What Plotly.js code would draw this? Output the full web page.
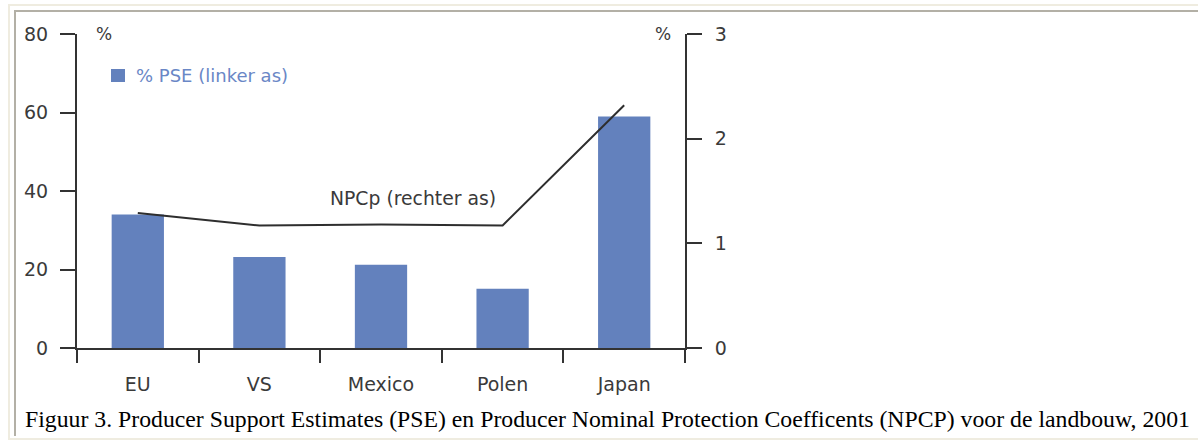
<!DOCTYPE html>
<html>
<head>
<meta charset="utf-8">
<script src="https://cdn.plot.ly/plotly-3.0.1.min.js"></script>
<style>
  html, body { margin: 0; padding: 0; background: #ffffff; overflow: hidden; width: 1198px; height: 441px; }
  #wrap { position: relative; width: 1198px; height: 441px; overflow: hidden; }
  #outer { position: absolute; left: 8px; top: 4px; width: 1250px; height: 432px;
           border-left: 2px solid #efece0; border-top: 2px solid #efece0; border-bottom: 2px solid #efece0; }
  #inner { position: absolute; left: 14px; top: 10px; width: 1250px; height: 424px;
           border-left: 2px solid #b3b0a6; border-top: 2px solid #b3b0a6; }
  #chart { position: absolute; left: 0; top: 0; width: 1198px; height: 441px; }
</style>
</head>
<body>
<div id="wrap">
  <div id="outer"></div>
  <div id="inner"></div>
  <div id="chart"></div>
</div>
<script>
const categories = ["EU", "VS", "Mexico", "Polen", "Japan"];
const psePercent = [34, 23.2, 21.2, 15.1, 59];
const npcp = [1.29, 1.17, 1.18, 1.17, 2.32];
const leftTicks = [0, 20, 40, 60, 80];
const rightTicks = [0, 1, 2, 3];
const captionText = "Figuur 3. Producer Support Estimates (PSE) en Producer Nominal Protection Coefficents (NPCP) voor de landbouw, 2001";

const axisColor = "#333333";
const tickFont = { family: "DejaVu Sans", size: 19, color: "#3a3a3a" };

const traces = [
  {
    type: "bar",
    x: categories,
    y: psePercent,
    width: 0.43,
    marker: { color: "#6381bd" },
    yaxis: "y"
  },
  {
    type: "scatter",
    mode: "lines",
    x: categories,
    y: npcp,
    line: { color: "#2e2e2e", width: 2 },
    yaxis: "y2"
  }
];

const layout = {
  width: 1198,
  height: 441,
  margin: { l: 77, r: 513, t: 34, b: 93, pad: 0 },
  paper_bgcolor: "rgba(0,0,0,0)",
  plot_bgcolor: "rgba(0,0,0,0)",
  showlegend: false,
  xaxis: {
    type: "category",
    range: [-0.5, 4.5],
    showline: true, linecolor: axisColor, linewidth: 2,
    ticks: "outside", tickson: "boundaries", ticklen: 13, tickwidth: 2, tickcolor: axisColor,
    tickfont: tickFont,
    ticklabelstandoff: 18,
    showgrid: false, zeroline: false, fixedrange: true
  },
  yaxis: {
    range: [0, 80],
    tickvals: leftTicks,
    showline: true, linecolor: axisColor, linewidth: 2,
    ticks: "outside", ticklen: 15, tickwidth: 2, tickcolor: axisColor,
    tickfont: tickFont,
    ticklabelstandoff: 8,
    showgrid: false, zeroline: false, fixedrange: true
  },
  yaxis2: {
    range: [0, 3],
    tickvals: rightTicks,
    overlaying: "y",
    side: "right",
    showline: true, linecolor: axisColor, linewidth: 2,
    ticks: "outside", ticklen: 15, tickwidth: 2, tickcolor: axisColor,
    tickfont: tickFont,
    ticklabelstandoff: 9,
    showgrid: false, zeroline: false, fixedrange: true
  },
  shapes: [
    { type: "rect", xref: "paper", yref: "paper",
      x0: 34 / 608, x1: 48 / 608, y0: 1 - (69 - 34) / 314, y1: 1 - (82 - 34) / 314,
      fillcolor: "#6381bd", line: { width: 0 } }
  ],
  annotations: [
    { xref: "paper", yref: "paper", x: 57 / 608, y: 1 - (75 - 34) / 314,
      xanchor: "left", yanchor: "middle", showarrow: false,
      text: "% PSE (linker as)", font: { family: "DejaVu Sans", size: 18, color: "#6a87c6" } },
    { xref: "paper", yref: "paper", x: 251 / 608, y: 1 - (198 - 34) / 314,
      xanchor: "left", yanchor: "middle", showarrow: false,
      text: "NPCp (rechter as)", font: { family: "DejaVu Sans", size: 18.8, color: "#3a3a3a" } },
    { xref: "paper", yref: "paper", x: 17 / 608, y: 1,
      xanchor: "left", yanchor: "middle", showarrow: false,
      text: "%", font: { family: "DejaVu Sans", size: 17, color: "#3a3a3a" } },
    { xref: "paper", yref: "paper", x: 596 / 608, y: 1,
      xanchor: "right", yanchor: "middle", showarrow: false,
      text: "%", font: { family: "DejaVu Sans", size: 17, color: "#3a3a3a" } },
    { xref: "paper", yref: "paper", x: -54 / 608, y: -(419 - 348) / 314,
      xanchor: "left", yanchor: "middle", showarrow: false,
      text: captionText, font: { family: "Liberation Serif", size: 23.75, color: "#000000" } }
  ]
};

Plotly.newPlot("chart", traces, layout, { displayModeBar: false, staticPlot: true });
</script>
</body>
</html>
